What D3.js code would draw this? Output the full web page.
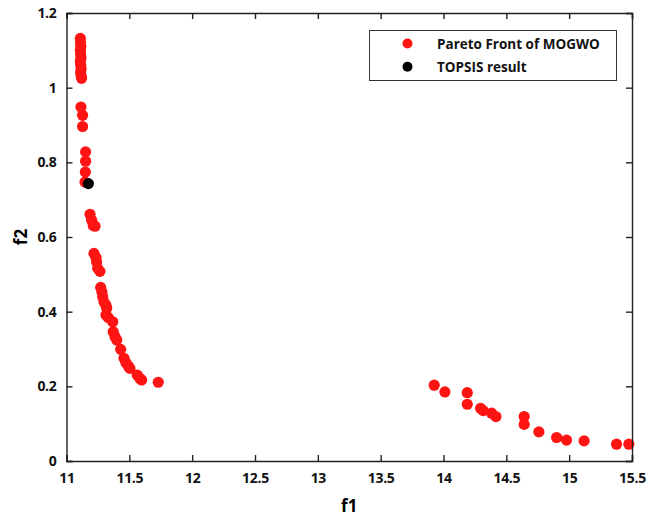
<!DOCTYPE html>
<html><head><meta charset="utf-8">
<script src="https://d3js.org/d3.v7.min.js"></script>
<style>body{margin:0;background:#fff}svg{display:block}text{font-family:"Open Sans",sans-serif;font-weight:700}</style>
</head><body><svg id="c" width="647" height="517"></svg>
<script>
const paretoF1 = [11.11,11.112,11.114,11.11,11.112,11.115,11.11,11.113,11.116,11.112,11.118,11.12,
  11.115,11.128,11.128,11.152,11.152,11.15,11.147,
  11.187,11.2,11.213,11.227,11.219,11.235,11.24,11.248,11.266,11.272,11.282,11.288,11.298,11.314,11.32,11.314,11.333,11.368,11.372,11.386,11.4,11.431,11.457,11.473,11.492,11.505,11.563,11.585,11.598,11.73,
  13.926,14.011,14.189,14.189,14.295,14.316,14.383,14.417,14.642,14.642,14.759,14.9,14.979,15.119,15.377,15.475];
const paretoF2 = [1.132,1.12,1.11,1.10,1.09,1.08,1.07,1.06,1.05,1.04,1.03,1.025,
  0.948,0.926,0.896,0.828,0.803,0.774,0.747,
  0.661,0.645,0.631,0.629,0.556,0.545,0.533,0.516,0.508,0.465,0.453,0.440,0.426,0.417,0.409,0.391,0.384,0.373,0.346,0.333,0.324,0.299,0.275,0.263,0.254,0.248,0.230,0.221,0.217,0.211,
  0.203,0.185,0.183,0.152,0.141,0.135,0.128,0.119,0.119,0.098,0.078,0.063,0.056,0.054,0.045,0.045];
const topsisF1 = [11.174];
const topsisF2 = [0.743];
const xTicks = [11,11.5,12,12.5,13,13.5,14,14.5,15,15.5];
const yTicks = [0,0.2,0.4,0.6,0.8,1,1.2];
const legendLabels = ["Pareto Front of MOGWO","TOPSIS result"];
const colors = ["#ff1414","#000000"];

const svg = d3.select("#c");
const L=66.5,R=632,T=13,B=461;
const x = d3.scaleLinear().domain([11,15.5]).range([L,R]);
const y = d3.scaleLinear().domain([0,1.2]).range([B,T]);
const axCol="#222";
const rad=5.6;

const g = svg.append("g");
g.selectAll("circle.p").data(paretoF1.map((v,i)=>[v,paretoF2[i]])).enter().append("circle")
  .attr("cx",d=>x(d[0])).attr("cy",d=>y(d[1])).attr("r",rad).attr("fill",colors[0]);
g.selectAll("circle.t").data(topsisF1.map((v,i)=>[v,topsisF2[i]])).enter().append("circle")
  .attr("cx",d=>x(d[0])).attr("cy",d=>y(d[1])).attr("r",rad).attr("fill",colors[1]);

const tl=6;
const xb = svg.append("g").attr("transform",`translate(0,${B})`).call(d3.axisBottom(x).tickValues(xTicks).tickSize(-tl).tickPadding(12).tickFormat(d3.format("")));
const xt = svg.append("g").attr("transform",`translate(0,${T})`).call(d3.axisTop(x).tickValues(xTicks).tickSize(-tl).tickFormat(""));
const yl = svg.append("g").attr("transform",`translate(${L},0)`).call(d3.axisLeft(y).tickValues(yTicks).tickSize(-tl).tickPadding(10).tickFormat(d3.format("")));
const yr = svg.append("g").attr("transform",`translate(${R},0)`).call(d3.axisRight(y).tickValues(yTicks).tickSize(-tl).tickFormat(""));
[xb,xt,yl,yr].forEach(a=>{a.select(".domain").attr("stroke",axCol).attr("stroke-width",1.4);
  a.selectAll(".tick line").attr("stroke",axCol).attr("stroke-width",1.4);
  a.selectAll("text").attr("fill","#111").style("font-size","14px").style("font-family","Open Sans").style("font-weight","700").style("letter-spacing","-0.3px");});

svg.append("text").attr("x",(L+R)/2).attr("y",512).attr("text-anchor","middle").style("font-size","17px").text("f1");
svg.append("text").attr("transform",`translate(27,${(T+B)/2}) rotate(-90)`).attr("text-anchor","middle").style("font-size","17px").text("f2");

const lg = svg.append("g");
lg.append("rect").attr("x",369.5).attr("y",30.5).attr("width",247).attr("height",50).attr("fill","#fff").attr("stroke","#333").attr("stroke-width",1);
legendLabels.forEach((t,i)=>{
  const cy=43.5+i*23.3;
  lg.append("circle").attr("cx",407.5).attr("cy",cy).attr("r",5).attr("fill",colors[i]);
  lg.append("text").attr("x",437).attr("y",cy+5).style("font-size","13.5px").attr("fill","#111").text(t);
});
</script></body></html>
